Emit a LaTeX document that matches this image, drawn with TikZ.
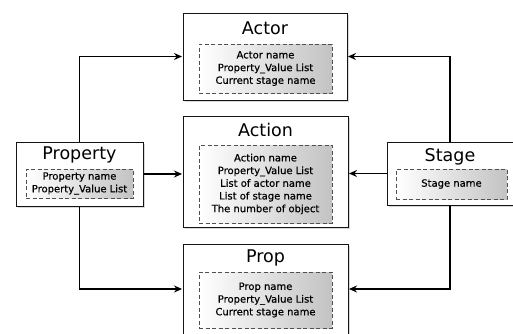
\documentclass[tikz,border=0pt]{standalone}
\usepackage{fontspec}
\setmainfont{DejaVu Sans}
\newfontfamily\fieldfont[FakeBold=0.5]{DejaVu Sans}
\usetikzlibrary{arrows.meta,shadows}
\definecolor{frame}{RGB}{20,20,20}
\definecolor{dashgray}{RGB}{80,80,80}
\definecolor{fieldgray}{RGB}{195,195,195}

\begin{document}
\begin{tikzpicture}[x=1pt,y=-1pt,>=Stealth,
	box/.style={draw=frame, line width=1pt, fill=white, drop shadow={opacity=0.3, shadow xshift=1.5pt, shadow yshift=-1.5pt}},
	title/.style={font=\fontsize{17.5}{20}\selectfont},
	field/.style={draw=dashgray, dash pattern=on 4pt off 2.5pt, line width=0.9pt, left color=white, right color=fieldgray, align=center, inner sep=0pt, font=\fieldfont\fontsize{10}{12.7}\selectfont},
	link/.style={line width=1.7pt, -{Stealth[length=8pt, width=7pt]}, shorten >=0.5pt}]

	\useasboundingbox (0,0) rectangle (513,333);

	% middle column
	\node[box, minimum width=164pt, minimum height=87pt] (actor) at (265,56.5) {};
	\node[title] (actor-title) at (265,28) {Actor};
	\node[field, minimum width=133pt, minimum height=49pt] (actor-field) at (265.5,68.5) {Actor name\\Property\_Value List\\Current stage name};

	\node[box, minimum width=165pt, minimum height=111pt] (action) at (265.5,171.5) {};
	\node[title] (action-title) at (265.5,130) {Action};
	\node[field, minimum width=133pt, minimum height=78pt] (action-field) at (265.5,184) {Action name\\Property\_Value List\\List of actor name\\List of stage name\\The number of object};

	\node[box, minimum width=165pt, minimum height=90pt] (prop) at (265.5,289) {};
	\node[title] (prop-title) at (265.5,258) {Prop};
	\node[field, minimum width=133pt, minimum height=56pt] (prop-field) at (265.5,300) {Prop name\\Property\_Value List\\Current stage name};

	% sides
	\node[box, minimum width=127pt, minimum height=64pt] (property) at (79.5,174) {};
	\node[title] (property-title) at (79.5,155) {Property};
	\node[field, minimum width=107pt, minimum height=29pt] (property-field) at (79.5,183.5) {Property name\\Property\_Value List};

	\node[box, minimum width=126pt, minimum height=63pt] (stage) at (450,173.5) {};
	\node[title] (stage-title) at (450,157) {Stage};
	\node[field, minimum width=111pt, minimum height=30pt] (stage-field) at (451.5,184) {Stage name};

	\draw[link] (property.north) |- (actor.west);
	\draw[link] (property.east) -- (property.east -| action.west);
	\draw[link] (property.south) |- (prop.west);
	\draw[link] (stage.north) |- (actor.east);
	\draw[link] (stage.west) -- (stage.west -| action.east);
	\draw[link] (stage.south) |- (prop.east);

\end{tikzpicture}
\end{document}
